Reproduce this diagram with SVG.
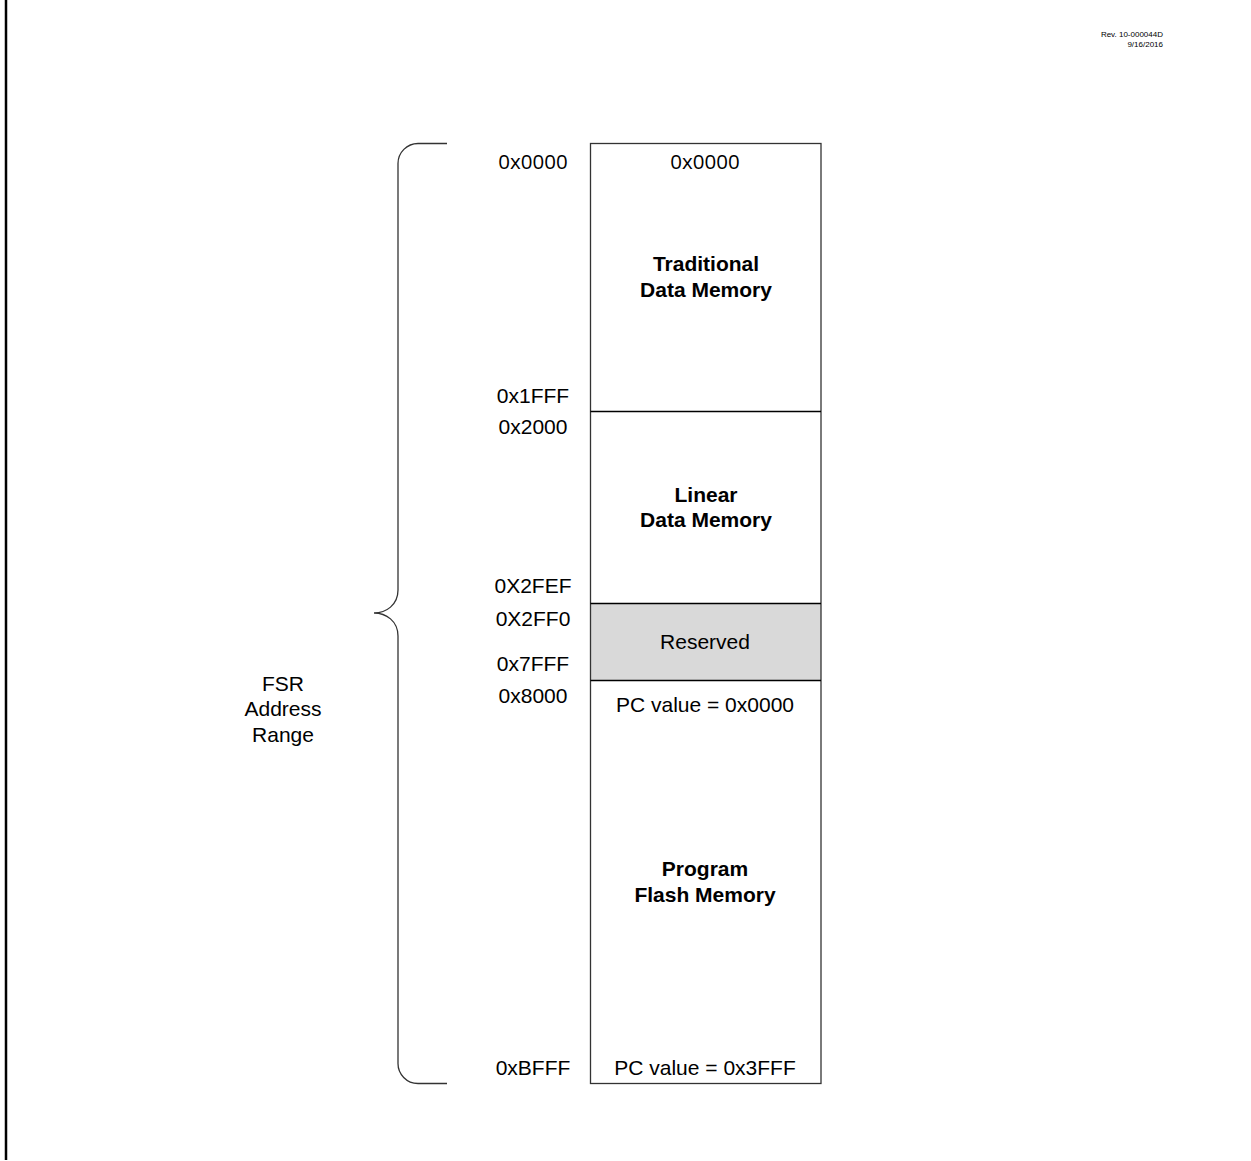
<svg xmlns="http://www.w3.org/2000/svg" width="1251" height="1161" viewBox="0 0 1251 1161">
<style>
.t{font-family:"Liberation Sans",Arial,sans-serif;font-size:21px;fill:#000;text-anchor:middle}
.b{font-weight:bold}
.c{font-family:"Open Sans","Noto Sans",sans-serif;font-size:20.5px;fill:#000;text-anchor:middle}
.div{stroke:#000;stroke-width:1.5;fill:none}
.rev{font-family:"Liberation Sans",Arial,sans-serif;font-size:8px;fill:#000;text-anchor:end}
</style>
<rect width="1251" height="1161" fill="#fff"/>
<line x1="6" y1="0" x2="6" y2="1160" stroke="#000" stroke-width="2.5"/>
<text class="rev" x="1163" y="37">Rev. 10-000044D</text>
<text class="rev" x="1163" y="47">9/16/2016</text>

<g id="brace">
<path d="M447,143.5 H418 A20,20 0 0 0 398,163.5 V590 C398,605 386,613 374,613 C386,613 398,621 398,636 V1063 A20,20 0 0 0 418,1083.5 H447" fill="none" stroke="#333" stroke-width="1.3"/>
<text class="t" x="283" y="691">FSR</text>
<text class="t" x="283" y="716">Address</text>
<text class="t" x="283" y="742">Range</text>
</g>

<g id="addresses">
<text class="c" x="533" y="169">0x0000</text>
<text class="t" x="533" y="403">0x1FFF</text>
<text class="t" x="533" y="434">0x2000</text>
<text class="t" x="533" y="593">0X2FEF</text>
<text class="t" x="533" y="626">0X2FF0</text>
<text class="t" x="533" y="671">0x7FFF</text>
<text class="t" x="533" y="703">0x8000</text>
<text class="t" x="533" y="1075">0xBFFF</text>
</g>

<g id="traditional">
<rect x="590.5" y="143.5" width="230.5" height="268" fill="#fff" stroke="none"/>
<text class="c" x="705" y="169">0x0000</text>
<text class="t b" x="706" y="271">Traditional</text>
<text class="t b" x="706" y="297">Data Memory</text>
</g>

<g id="linear">
<text class="t b" x="706" y="502">Linear</text>
<text class="t b" x="706" y="527">Data Memory</text>
</g>

<g id="reserved">
<rect x="590.5" y="603.5" width="230.5" height="77" fill="#d9d9d9"/>
<text class="t" x="705" y="649">Reserved</text>
</g>

<g id="flash">
<text class="t" x="705" y="712">PC value = 0x0000</text>
<text class="t b" x="705" y="876">Program</text>
<text class="t b" x="705" y="902">Flash Memory</text>
<text class="t" x="705" y="1075">PC value = 0x3FFF</text>
</g>

<g id="connectors">
<rect x="590.5" y="143.5" width="230.5" height="940" fill="none" stroke="#333" stroke-width="1.3"/>
<line class="div" x1="590.5" y1="411.5" x2="821" y2="411.5"/>
<line class="div" x1="590.5" y1="603.5" x2="821" y2="603.5"/>
<line class="div" x1="590.5" y1="680.5" x2="821" y2="680.5"/>
</g>
</svg>
